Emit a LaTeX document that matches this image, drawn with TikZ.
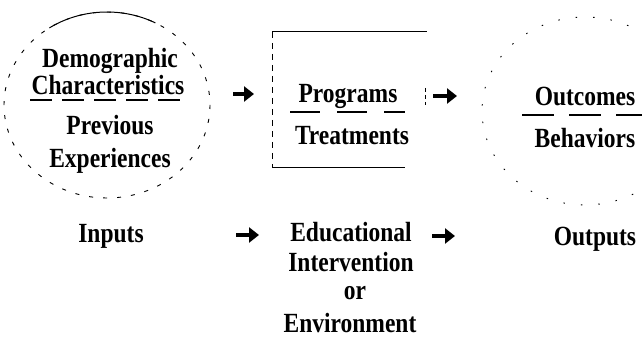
\documentclass[tikz,border=0pt]{standalone}
\usepackage{fontspec}
\setmainfont{Liberation Serif}
\usetikzlibrary{arrows.meta}
\newcommand{\tallbox}[1]{\scalebox{1}[1.18]{#1}}
\begin{document}
\begin{tikzpicture}[x=1pt,y=-1pt,
  lbl/.style={anchor=base,inner sep=0pt,font=\bfseries\fontsize{23.5}{24}\selectfont},
  uline/.style={line width=2.2pt},
  arr/.style={line width=3.4pt,-{Triangle[length=10pt,width=15pt]}},
  thinline/.style={line width=1pt},
  ring/.style={line width=0.9pt,dash pattern=on 4pt off 10pt},
  faintring/.style={line width=0.9pt,dash pattern=on 1.5pt off 16pt}]
\useasboundingbox (0,0) rectangle (642,344);
% left ring
\draw[ring] (107,105) ellipse [x radius=103, y radius=93];
\draw[thinline] (107,105) ++(236:103 and 93) arc [start angle=236, end angle=298, x radius=103, y radius=93];
% right ring
\draw[faintring] (585,111) ellipse [x radius=103, y radius=94];
% box
\draw[thinline] (272,32) -- (427,32);
\draw[thinline,dash pattern=on 6pt off 5pt] (272,32) -- (272,168);
\draw[thinline] (272,168) -- (405,168);
\draw[thinline,dash pattern=on 4pt off 3pt] (425,88) -- (425,105);
% inputs column
\node[lbl] (demo) at (110,68) {\tallbox{Demographic}};
\node[lbl] (char) at (108,95) {\tallbox{Characteristics}};
\node[lbl] (prev) at (110,135) {\tallbox{Previous}};
\node[lbl] (expe) at (110,168) {\tallbox{Experiences}};
\draw[uline,dash pattern=on 22pt off 10pt] (30,100) -- (182,100);
% programs
\node[lbl] (prog) at (348,103) {\tallbox{Programs}};
\node[lbl] (trea) at (352,145) {\tallbox{Treatments}};
\draw[uline,dash pattern=on 30pt off 17pt] (290,112) -- (405,112);
% outcomes
\node[lbl] (outc) at (585,106) {\tallbox{Outcomes}};
\node[lbl] (beha) at (585,148) {\tallbox{Behaviors}};
\draw[uline,dash pattern=on 32pt off 15pt] (522,115) -- (642,115);
% bottom row
\node[lbl] (inpu) at (111,243) {\tallbox{Inputs}};
\node[lbl] (educ) at (351,242) {\tallbox{Educational}};
\node[lbl] (inte) at (351,272) {\tallbox{Intervention}};
\node[lbl] (or) at (355,300) {\tallbox{or}};
\node[lbl] (envi) at (350,333) {\tallbox{Environment}};
\node[lbl] (outp) at (595,246) {\tallbox{Outputs}};
% arrows
\coordinate (a1s) at (233,94); \coordinate (a1e) at (254,94);
\coordinate (a2s) at (433,96); \coordinate (a2e) at (457,96);
\coordinate (a3s) at (236,235); \coordinate (a3e) at (259,235);
\coordinate (a4s) at (432,236); \coordinate (a4e) at (455,236);
\draw[arr] (a1s) -- (a1e);
\draw[arr] (a2s) -- (a2e);
\draw[arr] (a3s) -- (a3e);
\draw[arr] (a4s) -- (a4e);
\end{tikzpicture}
\end{document}
